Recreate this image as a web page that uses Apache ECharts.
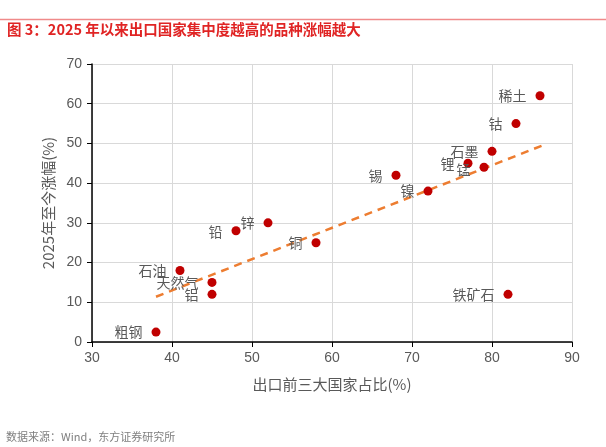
<!DOCTYPE html>
<html>
<head>
<meta charset="utf-8">
<script src="https://cdn.jsdelivr.net/npm/echarts@6/dist/echarts.min.js"></script>
<style>
  html, body { margin: 0; padding: 0; background: #fff; }
  #chart { width: 606px; height: 447px; }
</style>
</head>
<body>
<div id="chart"></div>
<script>
// 品种、出口前三大国家占比(%)、2025年至今涨幅(%)
var names = ['稀土', '钴', '石墨', '锂', '锰', '锡', '镍', '锌', '铅', '铜', '石油', '天然气', '铝', '粗钢', '铁矿石'];
var shareTop3 = [86, 83, 80, 77, 79, 68, 72, 52, 48, 58, 41, 45, 45, 38, 82];
var gain2025 = [62, 55, 48, 45, 44, 42, 38, 30, 28, 25, 18, 15, 12, 2.5, 12];

// 趋势线两端
var trendX = [38, 86.2];
var trendY = [11.4, 49.4];

var FONT = 'Liberation Sans, Arial, Noto Sans CJK SC, sans-serif';
var GRAY = '#595959';

var scatterData = names.map(function (n, i) {
    return { name: n, value: [shareTop3[i], gain2025[i]] };
});
// a couple of labels sit a bit off
scatterData[4].label = { offset: [0, 2] };
scatterData[8].label = { offset: [0, 1] };

var myChart = echarts.init(document.getElementById('chart'));

var option = {
    animation: false,
    backgroundColor: '#fff',
    textStyle: { fontFamily: FONT },
    graphic: [
        {
            type: 'line',
            shape: { x1: 0, y1: 19.5, x2: 606, y2: 19.5 },
            style: { stroke: '#f08a8a', lineWidth: 1.5 }
        },
        {
            type: 'text',
            left: 7,
            top: 22,
            style: {
                text: '图 3：2025 年以来出口国家集中度越高的品种涨幅越大',
                fill: '#e02424',
                font: 'bold 14.5px "Noto Sans CJK SC", sans-serif'
            }
        },
        {
            type: 'text',
            left: 6,
            top: 431,
            style: {
                text: '数据来源：Wind，东方证券研究所',
                fill: '#7f7f7f',
                font: '11px "Noto Sans CJK SC", sans-serif'
            }
        }
    ],
    grid: { left: 92, right: 34, top: 64, bottom: 105 },
    xAxis: {
        type: 'value',
        min: 30,
        max: 90,
        interval: 10,
        name: '出口前三大国家占比(%)',
        nameLocation: 'middle',
        nameGap: 35,
        nameTextStyle: { color: GRAY, fontSize: 15, fontFamily: 'Noto Sans CJK SC' },
        axisLine: { lineStyle: { color: '#000', width: 1.5 } },
        axisTick: { show: true, length: 5, lineStyle: { color: '#000' } },
        axisLabel: { color: GRAY, fontSize: 14, margin: 9 },
        splitLine: { show: true, lineStyle: { color: '#d9d9d9', width: 1 } }
    },
    yAxis: {
        type: 'value',
        min: 0,
        max: 70,
        interval: 10,
        name: '2025年至今涨幅(%)',
        nameLocation: 'middle',
        nameGap: 36,
        nameTextStyle: { color: GRAY, fontSize: 15, fontFamily: 'Noto Sans CJK SC' },
        axisLine: { show: true, lineStyle: { color: '#000', width: 1.5 } },
        axisTick: { show: true, length: 5, lineStyle: { color: '#000' } },
        axisLabel: { color: GRAY, fontSize: 14, margin: 10 },
        splitLine: { show: true, lineStyle: { color: '#d9d9d9', width: 1 } }
    },
    series: [
        {
            type: 'line',
            data: trendX.map(function (x, i) { return [x, trendY[i]]; }),
            symbol: 'none',
            silent: true,
            lineStyle: { color: '#ED7D31', width: 2.5, type: [8, 6] },
            z: 1
        },
        {
            type: 'scatter',
            data: scatterData,
            symbolSize: 9,
            itemStyle: { color: '#c00000', opacity: 1 },
            label: {
                show: true,
                position: 'left',
                distance: 9,
                formatter: '{b}',
                color: GRAY,
                fontSize: 14,
                fontFamily: 'Noto Sans CJK SC'
            },
            z: 3
        }
    ]
};

myChart.setOption(option);
</script>
</body>
</html>
